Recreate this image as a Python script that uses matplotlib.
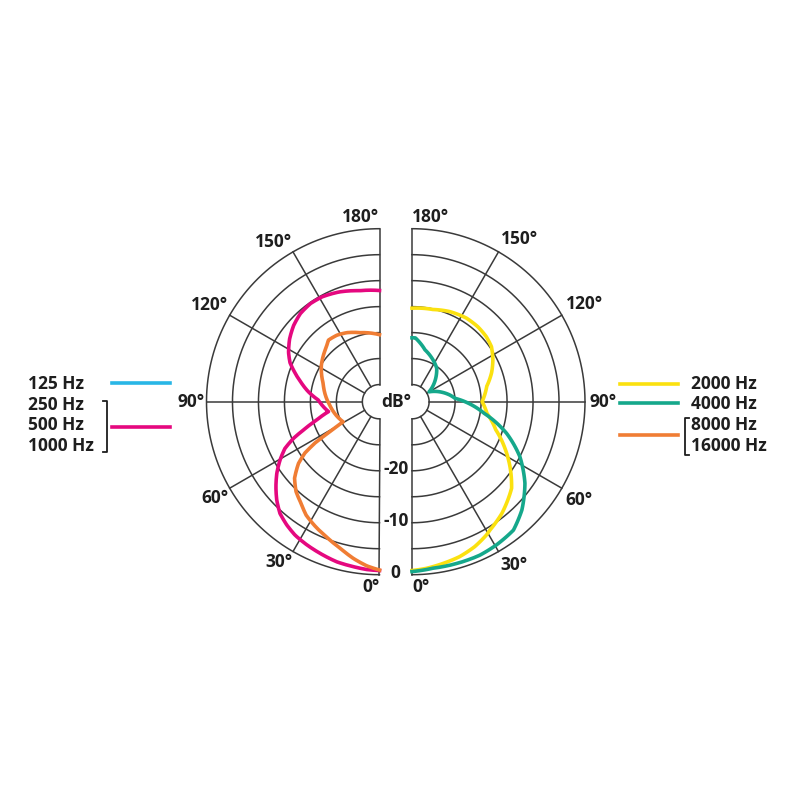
import numpy as np
import matplotlib
matplotlib.use("Agg")
import matplotlib.pyplot as plt

plt.rcParams['font.family'] = ['Open Sans', 'DejaVu Sans']

# ---- polar response data (angle in degrees, level in dB) ----
# left half: 250 / 500 / 1000 Hz (pink) and 8000 / 16000 Hz (orange)
pink_ang = [0, 4.3, 9, 14.9, 21.4, 26.9, 32.3, 36.9, 41.7, 46.2, 50.6, 55.1, 59.6, 63.7,
            66.9, 69.6, 73.7, 79, 91.6, 98.2, 103.3, 108.6, 113.6, 118.4, 124.9, 131.6,
            138.1, 145, 151.5, 159.9, 169.9, 180]
pink_db = [-0.8, -0.9, -1.15, -1.4, -1.95, -2.4, -2.9, -3.6, -4.5, -5.9, -7.5, -9.2, -11.1, -13.0,
           -15.3, -17.7, -20.7, -23.3, -21.5, -19.4, -17.9, -16.2, -14.5, -13.4, -12.2, -11.2,
           -10.5, -10.2, -10.3, -10.8, -11.6, -11.9]

orange_ang = [0, 4.4, 9.4, 15, 21.2, 27.2, 32.9, 37.7, 42.9, 48, 52.7, 55.5, 57.4, 58.7, 61,
              86, 108, 122, 136, 140.4, 147.4, 154.7, 164.3, 180]
orange_db = [-0.9, -1.6, -2.7, -4.1, -5.3, -6.3, -7.3, -8.6, -9.7, -11.3, -13.7, -15.9, -18.6, -21.8, -25.3,
             -23.7, -21.9, -20.1, -18.6, -17.9, -18.1, -18.6, -19.5, -20.4]

# right half: 2000 Hz (yellow) and 4000 Hz (teal)
yellow_ang = [0, 4.9, 10.9, 17.1, 23.4, 29.1, 31.3, 38.8, 49, 56, 63.4, 71.5, 81.2, 90,
              101.7, 110, 117.2, 124.7, 131.2, 138.7, 146.9, 157.3, 167.2, 180]
yellow_db = [-0.8, -1.1, -1.6, -2.1, -2.9, -3.9, -4.4, -5.7, -7.9, -10.5, -13.3, -16.3, -18.7, -19.8,
             -18.6, -17, -15.8, -14.7, -14.3, -14.1, -14.1, -14.5, -15.1, -15.3]

teal_ang = [0, 7.2, 15.3, 23.8, 30.5, 38.3, 45.4, 54.2, 63, 71.5, 80.8, 94.5, 100, 120,
            143.5, 166, 177, 180]
teal_db = [-0.6, -1.0, -1.0, -1.0, -1.3, -1.8, -3.6, -6.5, -10, -14.1, -19.2, -25, -25.9, -29.5,
           -25.3, -23, -21, -21]

left_labels = ['125 Hz', '250 Hz', '500 Hz', '1000 Hz']
right_labels = ['2000 Hz', '4000 Hz', '8000 Hz', '16000 Hz']
ring_db = [0, -5, -10, -15, -20, -25, -30]
spoke_deg = [0, 30, 60, 90, 120, 150, 180]
scale_ticks = [-20, -10, 0]

C_CYAN = '#29b6e6'
C_PINK = '#e5087f'
C_ORANGE = '#f07d34'
C_YELLOW = '#fbe10f'
C_TEAL = '#15a88b'
C_GRID = '#3a3a3a'
C_TEXT = '#1e1e1e'

R_ORIGIN = -33.3
R_PX = 173.0
CY = 401.7
CX_L, CX_R = 379.5, 412.0
FS = 12.5

fig = plt.figure(figsize=(8, 8), dpi=100)
fig.patch.set_facecolor('white')

# overlay in pixel coords for legends and centre labels
ov = fig.add_axes([0, 0, 1, 1])
ov.set_xlim(0, 800)
ov.set_ylim(800, 0)
ov.axis('off')


def half_polar(cx, direction):
    size = 2 * R_PX / 800
    ax = fig.add_axes([cx / 800 - R_PX / 800, (800 - CY) / 800 - R_PX / 800, size, size],
                      projection='polar')
    ax.set_theta_zero_location('S')
    ax.set_theta_direction(direction)
    ax.set_rorigin(R_ORIGIN)
    ax.set_ylim(-30, 0)
    ax.axis('off')
    ax.patch.set_alpha(0)
    th = np.linspace(0, np.pi, 300)
    for r in ring_db:
        ax.plot(th, np.full_like(th, r), color=C_GRID, lw=1.1, clip_on=False)
    for a in spoke_deg:
        ax.plot([np.radians(a)] * 2, [-30, 0], color=C_GRID, lw=1.1, clip_on=False)
    return ax


def curve(ax, ang, db, color):
    ln, = ax.plot(np.radians(ang), db, color=color, lw=2.6, clip_on=False,
                  solid_joinstyle='round', zorder=5)
    ln.get_path()._interpolation_steps = 20


axl = half_polar(CX_L, -1)
axr = half_polar(CX_R, 1)

curve(axl, pink_ang, pink_db, C_PINK)
curve(axl, orange_ang, orange_db, C_ORANGE)
curve(axr, yellow_ang, yellow_db, C_YELLOW)
curve(axr, teal_ang, teal_db, C_TEAL)

# angle labels
for ax, ha in ((axl, 'right'), (axr, 'left')):
    for a in spoke_deg:
        if a == 0 or a == 180:
            va = 'top' if a == 0 else 'bottom'
            ax.text(np.radians(a), 0.6, f'{a}\u00b0', ha=ha, va=va, fontsize=FS,
                    fontweight='bold', color=C_TEXT)
            continue
        va = 'bottom' if a > 90 else ('center' if a == 90 else 'top')
        ax.text(np.radians(a), 0.9 if ha == 'left' else 0.3, f'{a}\u00b0', ha=ha, va=va,
                fontsize=FS, fontweight='bold', color=C_TEXT)

# dB scale between the halves
xm = (CX_L + CX_R) / 2
ov.text(xm, CY, 'dB\u00b0', ha='center', va='center', fontsize=FS, fontweight='bold', color=C_TEXT)
for t in scale_ticks:
    y = CY + R_PX * (t - R_ORIGIN) / (0 - R_ORIGIN)
    ov.text(xm, y - 2, f'{t}', ha='center', va='center', fontsize=FS, fontweight='bold',
            color=C_TEXT, bbox=dict(facecolor='white', edgecolor='none', pad=0.5))

# left legend
ly = [384, 404.5, 425.5, 446]
for lab, y in zip(left_labels, ly):
    ov.text(28, y, lab, ha='left', va='center', fontsize=FS, fontweight='bold', color=C_TEXT)
ov.plot([112, 170], [383.3, 383.3], color=C_CYAN, lw=2.6)
ov.plot([112, 170], [426.7, 426.7], color=C_PINK, lw=2.6)
ov.plot([103, 107.3, 107.3, 103], [400.7, 400.7, 451.7, 451.7], color=C_TEXT, lw=1.3)

# right legend
ry = [384, 404, 425.5, 446]
for lab, y in zip(right_labels, ry):
    ov.text(691, y, lab, ha='left', va='center', fontsize=FS, fontweight='bold', color=C_TEXT)
ov.plot([620, 677.7], [384, 384], color=C_YELLOW, lw=2.6)
ov.plot([620, 677.7], [403.3, 403.3], color=C_TEAL, lw=2.6)
ov.plot([620, 677.7], [435, 435], color=C_ORANGE, lw=2.6)
ov.plot([689, 685, 685, 689], [418, 418, 455, 455], color=C_TEXT, lw=1.3)

fig.savefig('out.png', dpi=100, facecolor='white')
